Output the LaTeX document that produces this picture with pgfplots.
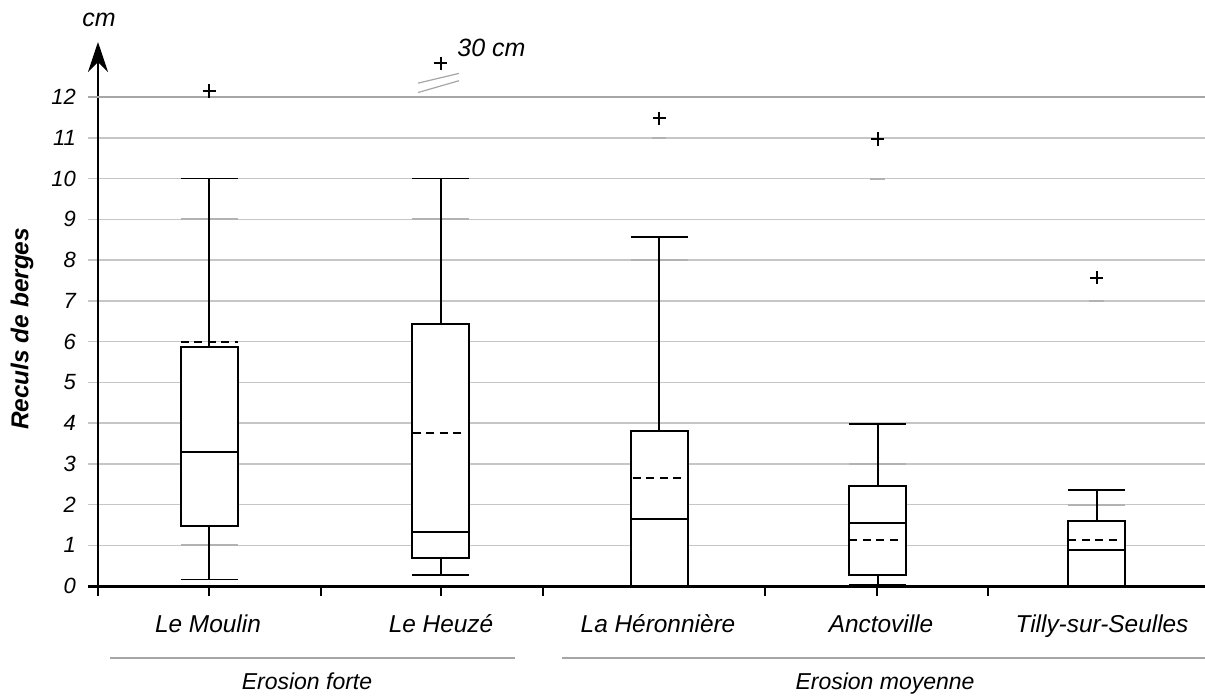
\documentclass[border=0pt]{standalone}
\usepackage{pgfplots}
\pgfplotsset{compat=1.18}
\usepgfplotslibrary{statistics}
\usetikzlibrary{arrows.meta}
\usepackage{fontspec}
\setmainfont{Liberation Sans}
\begin{document}
\begin{tikzpicture}
\useasboundingbox (-49pt,-56pt) rectangle (553.5pt,293pt);
\begin{axis}[
  at={(0,0)}, anchor=south west,
  scale only axis, width=553.5pt, height=272pt,
  xmin=98, xmax=1205, ymin=0, ymax=13.35,
  axis x line=bottom, axis y line=left,
  x axis line style={-, line width=1.5pt},
  y axis line style={line width=1pt, -{Stealth[length=15pt,width=10pt]}},
  xtick=\empty,
  extra x ticks={98,209,321,441,543,765,877,988},
  extra x tick labels={},
  extra x tick style={tick style={black, line width=0.75pt}},
  ytick={0,...,12},
  ymajorgrids, grid style={gray!45, line width=0.75pt},
  tick align=outside, major tick length=5pt,
  tick style={gray!45, line width=0.75pt},
  /pgf/number format/assume math mode=true,
  yticklabel style={font=\fontsize{11}{13}\selectfont\itshape, xshift=-2.5pt},
  clip=false,
  boxplot/draw direction=y,
  boxplot/every box/.style={fill=white, draw=black, line width=1pt},
  boxplot/every whisker/.style={draw=black, line width=0.9pt},
  boxplot/every median/.style={draw=black, line width=1pt},
]
% darker 12 line and axis extension
\addplot[gray!70, line width=1.2pt] coordinates {(88,12) (1205,12)};
\addplot[black, line width=1.5pt] coordinates {(88,0) (98,0)};
% gray percentile segments
\addplot[gray!60, line width=1pt] coordinates {(181,1) (237.7,1)};
\addplot[gray!60, line width=1pt] coordinates {(181,9) (237.7,9)};
\addplot[gray!60, line width=1pt] coordinates {(412.3,9) (469,9)};
\addplot[gray!60, line width=1pt] coordinates {(630.7,8) (687.7,8)};
\addplot[gray!60, line width=1pt] coordinates {(849.3,3) (906,3)};
\addplot[gray!60, line width=1pt] coordinates {(1068.3,2) (1125,2)};
\addplot[gray!60, line width=1pt] coordinates {(652,11) (666,11)};
\addplot[gray!60, line width=1pt] coordinates {(870,10) (885,10)};
\addplot[gray!60, line width=1pt] coordinates {(1089,7) (1104,7)};
% boxes
\addplot[black, boxplot prepared={draw position=209.3, lower whisker=0.16, lower quartile=1.47, median=3.29, upper quartile=5.86, upper whisker=10, box extend=57, whisker extend=57}] coordinates {};
\addplot[black, boxplot prepared={draw position=440.7, lower whisker=0.27, lower quartile=0.69, median=1.32, upper quartile=6.44, upper whisker=10, box extend=57, whisker extend=57}] coordinates {};
\addplot[black, boxplot prepared={draw position=659.2, lower whisker=0, lower quartile=0, median=1.64, upper quartile=3.81, upper whisker=8.56, box extend=57, whisker extend=57}] coordinates {};
\addplot[black, boxplot prepared={draw position=877.7, lower whisker=0.03, lower quartile=0.27, median=1.54, upper quartile=2.45, upper whisker=3.98, box extend=57, whisker extend=57}] coordinates {};
\addplot[black, boxplot prepared={draw position=1096.7, lower whisker=0, lower quartile=0, median=0.88, upper quartile=1.6, upper whisker=2.36, box extend=57, whisker extend=57}] coordinates {};
% means (dashed)
\addplot[black, line width=1pt, dash pattern=on 4pt off 2.7pt] coordinates {(181,6.0) (237.7,6.0)};
\addplot[black, line width=1pt, dash pattern=on 4pt off 2.7pt] coordinates {(413,3.75) (465,3.75)};
\addplot[black, line width=1pt, dash pattern=on 4pt off 2.7pt] coordinates {(632.7,2.66) (683,2.66)};
\addplot[black, line width=1pt, dash pattern=on 4pt off 2.7pt] coordinates {(849.3,1.13) (901,1.13)};
\addplot[black, line width=1pt, dash pattern=on 4pt off 2.7pt] coordinates {(1068.3,1.13) (1121,1.13)};
% axis break slashes
\addplot[gray!70, line width=0.6pt] coordinates {(418,12.11) (459,12.40)};
\addplot[gray!70, line width=0.6pt] coordinates {(418,12.34) (459,12.58)};
% outliers
\addplot[only marks, black, mark=+, mark size=3.3pt, mark options={line width=1pt}] coordinates {(209.3,12.15) (440.7,12.83) (659.2,11.48) (877.7,10.97) (1096.7,7.57)};
% texts
\node[font=\fontsize{12.5}{14}\selectfont\itshape, anchor=base west, inner sep=0pt] at (axis cs:457,13.0) {30 cm};
\node[font=\fontsize{12.5}{14}\selectfont\itshape, anchor=base] at (axis cs:99,13.73) {cm};
\node[font=\fontsize{12.2}{14}\selectfont\bfseries\itshape, rotate=90] at ([xshift=-38pt]axis cs:98,6.31) {Reculs de berges};
\foreach \px/\name in {208/Le Moulin, 441/Le Heuzé, 658/La Héronnière, 881/Anctoville, 1102/Tilly-sur-Seulles}{
  \edef\tmp{\noexpand\node[font=\noexpand\fontsize{12.2}{14}\noexpand\selectfont\noexpand\itshape, anchor=base] at ([yshift=-23.2pt]axis cs:\px,0) {\name};}
  \tmp
}
\draw[gray!70, line width=1pt] ([yshift=-35.9pt]axis cs:110,0) -- ([yshift=-35.9pt]axis cs:515,0);
\draw[gray!70, line width=1pt] ([yshift=-35.9pt]axis cs:562,0) -- ([yshift=-35.9pt]axis cs:1205,0);
\node[font=\fontsize{11.5}{14}\selectfont\itshape, anchor=base] at ([yshift=-51.7pt]axis cs:307,0) {Erosion forte};
\node[font=\fontsize{11.5}{14}\selectfont\itshape, anchor=base] at ([yshift=-51.7pt]axis cs:885,0) {Erosion moyenne};
\end{axis}
\end{tikzpicture}
\end{document}
